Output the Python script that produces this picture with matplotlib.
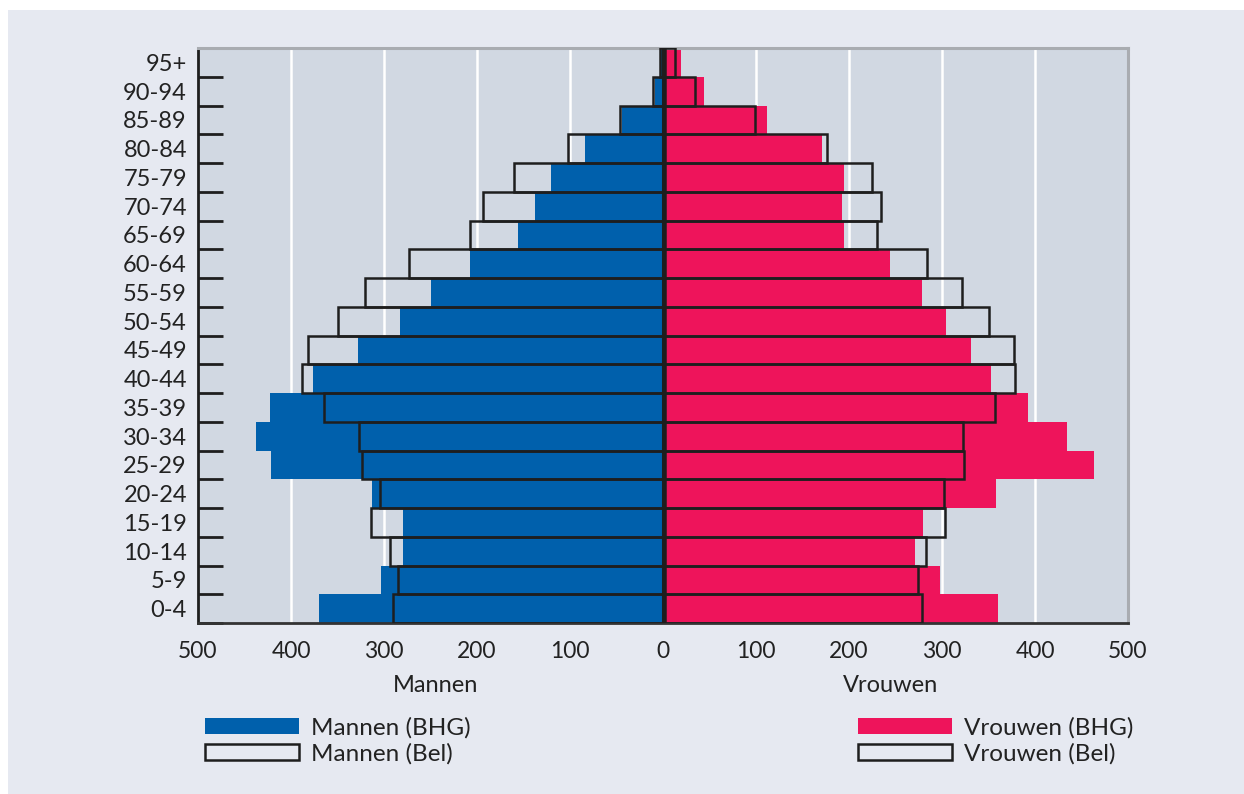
import matplotlib
matplotlib.use("Agg")
import matplotlib.pyplot as plt
from matplotlib.patches import Patch, Rectangle

# age groups, bottom to top
ages = ["0-4", "5-9", "10-14", "15-19", "20-24", "25-29", "30-34", "35-39",
        "40-44", "45-49", "50-54", "55-59", "60-64", "65-69", "70-74",
        "75-79", "80-84", "85-89", "90-94", "95+"]

# per 10 000 inhabitants
men_bhg = [370, 303, 280, 280, 313, 421, 438, 423, 376, 328,
           283, 250, 208, 156, 138, 120, 84, 44, 9, 2]
men_bel = [290, 285, 294, 314, 304, 324, 327, 364, 388, 382,
           350, 320, 273, 207, 194, 160, 102, 46, 11, 3]
women_bhg = [358, 296, 269, 278, 356, 461, 432, 391, 351, 329,
             302, 276, 242, 193, 190, 193, 169, 110, 42, 17]
women_bel = [277, 272, 281, 301, 300, 322, 321, 355, 377, 375,
             348, 320, 282, 228, 232, 223, 174, 97, 32, 11]

blue = "#0060ac"
pink = "#ee145b"
txt = "#222222"
plt.rcParams["font.family"] = ["Lato", "DejaVu Sans"]

fig = plt.figure(figsize=(12.44, 7.94), dpi=100, facecolor="white")
fig.patches.append(Rectangle((8 / 1244, 0), 1, 1 - 10 / 794, transform=fig.transFigure,
                             facecolor="#e6e9f1", edgecolor="none", zorder=-10))

ax = fig.add_axes([198 / 1244, 1 - 623 / 794, 930 / 1244, 575 / 794])
ax.set_facecolor("#d1d8e2")

y = list(range(len(ages)))
ax.barh(y, [-v for v in men_bhg], height=1, color=blue, zorder=2)
ax.barh(y, women_bhg, height=1, left=2, color=pink, zorder=2)
ax.barh(y, [-v for v in men_bel], height=1, fill=False, edgecolor="#1e1e1e",
        linewidth=1.8, zorder=3)
ax.barh(y, women_bel, height=1, left=2, fill=False, edgecolor="#1e1e1e",
        linewidth=1.8, zorder=3)
ax.axvline(0, color="#1e1e1e", lw=2.2, zorder=4)

ax.set_xlim(-500, 500)
ax.set_ylim(-0.5, len(ages) - 0.5)

for g in [-400, -300, -200, -100, 100, 200, 300, 400]:
    ax.axvline(g, color="white", lw=1.8, zorder=1)

xt = [-500, -400, -300, -200, -100, 0, 100, 200, 300, 400, 500]
ax.set_xticks(xt)
ax.set_xticklabels([str(abs(v)) for v in xt], fontsize=16.5, color=txt)
ax.tick_params(axis="x", length=0, pad=13)

ax.set_yticks([i - 0.5 for i in range(len(ages) + 1)])
ax.set_yticklabels([])
ax.tick_params(axis="y", which="major", direction="in", length=18, width=2, color="#1e1e1e")
ax.set_yticks(y, minor=True)
ax.set_yticklabels(ages, minor=True, fontsize=17, color=txt)
ax.tick_params(axis="y", which="minor", length=0, pad=8)

ax.spines["left"].set_color("#1e1e1e")
ax.spines["left"].set_linewidth(2)
ax.spines["bottom"].set_color("#333333")
ax.spines["bottom"].set_linewidth(2)
for s in ["top", "right"]:
    ax.spines[s].set_color("#a9acb1")
    ax.spines[s].set_linewidth(2.2)

ax.text(-245, -2.3, "Mannen", ha="center", va="top", fontsize=17, color=txt)
ax.text(245, -2.3, "Vrouwen", ha="center", va="top", fontsize=17, color=txt)

leg_kw = dict(loc="upper left", frameon=False, fontsize=17.5, handlelength=3.85,
              handleheight=0.62, handletextpad=0.5, labelspacing=0.18, borderpad=0)
leg1 = fig.legend(handles=[Patch(facecolor=blue), Patch(facecolor="none", edgecolor="#1e1e1e", linewidth=1.8)],
                  labels=["Mannen (BHG)", "Mannen (Bel)"],
                  bbox_to_anchor=(193 / 1244, 1 - 705 / 794), **leg_kw)
leg2 = fig.legend(handles=[Patch(facecolor=pink), Patch(facecolor="none", edgecolor="#1e1e1e", linewidth=1.8)],
                  labels=["Vrouwen (BHG)", "Vrouwen (Bel)"],
                  bbox_to_anchor=(846 / 1244, 1 - 705 / 794), **leg_kw)
for leg in (leg1, leg2):
    for t in leg.get_texts():
        t.set_color(txt)

fig.savefig("out.png", dpi=100, facecolor=fig.get_facecolor())
